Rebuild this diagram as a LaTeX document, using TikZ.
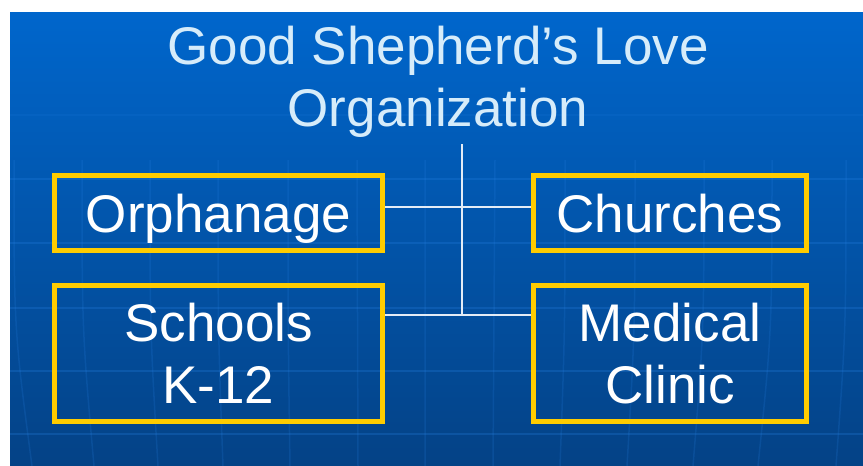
\documentclass[tikz,border=0pt]{standalone}
\usepackage{fontspec}
\setmainfont{Liberation Sans}
\usepackage{xcolor}
\usepackage{tikz}
\usetikzlibrary{positioning}

\definecolor{slidetop}{RGB}{0,102,204}
\definecolor{slidebottom}{RGB}{4,66,134}
\definecolor{boxgold}{RGB}{255,204,0}
\definecolor{titleblue}{RGB}{214,236,250}
\definecolor{gridblue}{RGB}{40,130,230}
\definecolor{linkwhite}{RGB}{228,236,246}

\tikzset{
  title/.style={text=titleblue, align=center, inner sep=0pt,
    font=\fontsize{53}{62}\selectfont, text height=101pt, text depth=0pt},
  unitbox/.style={draw=boxgold, line width=5pt, text=white, align=center,
    inner sep=0pt, font=\fontsize{53}{62}\selectfont},
  link/.style={draw=linkwhite, line width=1.2pt},
  gridline/.style={draw=gridblue, line width=1.5pt, opacity=0.25},
}

\begin{document}
\begin{tikzpicture}[x=1pt,y=1pt]
\useasboundingbox (0,0) rectangle (863,-466);
\fill[white] (0,0) rectangle (863,-466);
\shade[top color=slidetop, bottom color=slidebottom] (10,-12) rectangle (863,-466);
% faint globe lines behind the chart
\draw[gridline, opacity=0.12] (10,-115) -- (863,-115);
\draw[gridline] (10,-179) -- (863,-179) (10,-243) -- (863,-243)
  (10,-308) -- (863,-308) (10,-371) -- (863,-371) (10,-434) -- (863,-434);
\draw[gridline, opacity=0.18]
  (14,-160) .. controls (14,-330) .. (32,-466)
  (82,-160) .. controls (82,-330) .. (94,-466)
  (150,-160) .. controls (150,-330) .. (158,-466)
  (218,-160) .. controls (218,-330) .. (223,-466)
  (288,-160) .. controls (288,-330) .. (290,-466)
  (357,-160) -- (358,-466)
  (425,-160) -- (425,-466)
  (495,-160) -- (493,-466)
  (565,-160) .. controls (565,-330) .. (560,-466)
  (635,-160) .. controls (635,-330) .. (627,-466)
  (704,-160) .. controls (704,-330) .. (693,-466)
  (772,-160) .. controls (772,-330) .. (758,-466)
  (846,-160) .. controls (846,-330) .. (836,-466);

% title
\node[title, anchor=north] (title) at (438,-25) {Good Shepherd's Love\\Organization};

% the four branches
\node[unitbox, minimum width=328pt, minimum height=75pt, text height=38pt, text depth=0pt] (orph) at (218.5,-213) {Orphanage};
\node[unitbox, minimum width=273pt, minimum height=75pt, text height=38pt, text depth=0pt] (church) at (670,-213) {Churches};
\node[unitbox, minimum width=328pt, minimum height=136pt, text height=100pt, text depth=0pt] (school) at (218.5,-353.5) {Schools\\K-12};
\node[unitbox, minimum width=273pt, minimum height=136pt, text height=100pt, text depth=0pt] (clinic) at (670,-353.5) {Medical\\Clinic};

% connectors
\coordinate (stem) at (462,-144);
\coordinate (upper) at (462,-207);
\coordinate (lower) at (462,-315);
\draw[link] (stem) -- (lower);
\draw[link] (orph.east |- upper) -- (church.west |- upper);
\draw[link] (school.east |- lower) -- (clinic.west |- lower);
\end{tikzpicture}
\end{document}
